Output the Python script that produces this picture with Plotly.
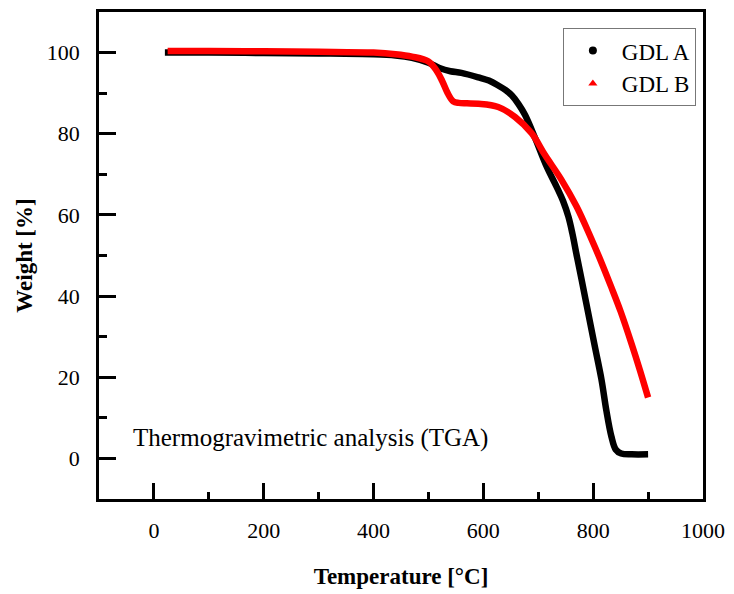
import plotly.graph_objects as go

# GDL A (black)
temp_a = [20, 100, 200, 300, 400, 440, 470, 500, 520, 540, 560, 591, 610, 627, 640, 652,
          664, 676, 694, 715, 735, 745, 755, 762, 770, 779, 791, 803, 815, 824, 833, 841,
          851, 870, 900]
weight_a = [100.0, 100.0, 99.9, 99.8, 99.6, 99.3, 98.7, 97.5, 96.2, 95.4, 95.0, 93.9,
            93.1, 91.9, 90.8, 89.4, 87.3, 84.6, 79.0, 72.0, 66.5, 63.5, 59.5, 55.5,
            50.0, 44.0, 35.8, 27.6, 19.5, 11.8, 5.5, 2.2, 1.2, 1.0, 1.0]

# GDL B (red)
temp_b = [25, 100, 200, 300, 400, 440, 470, 500, 515, 525, 535, 545, 555, 570, 591,
          627, 658, 688, 712, 742, 770, 797, 815, 833, 850, 870, 885, 900]
weight_b = [100.4, 100.4, 100.3, 100.2, 100.0, 99.6, 99.0, 97.8, 95.5, 93.0, 90.0,
            88.0, 87.6, 87.5, 87.4, 86.6, 84.1, 80.1, 74.8, 68.7, 62.0, 54.0, 48.3,
            42.2, 36.2, 28.2, 21.8, 15.0]

x_ticks = [0, 200, 400, 600, 800, 1000]
y_ticks = [0, 20, 40, 60, 80, 100]

FONT = "Liberation Serif"

fig = go.Figure()
fig.add_trace(go.Scatter(x=temp_a, y=weight_a, mode="lines",
                         line=dict(color="black", width=6.5, shape="spline", smoothing=1.0),
                         showlegend=False))
fig.add_trace(go.Scatter(x=temp_b, y=weight_b, mode="lines",
                         line=dict(color="#ff0000", width=6.5, shape="spline", smoothing=1.0),
                         showlegend=False))
fig.add_trace(go.Scatter(x=[None], y=[None], mode="markers", name="GDL A",
                         marker=dict(color="black", symbol="circle", size=8)))
fig.add_trace(go.Scatter(x=[None], y=[None], mode="markers", name="GDL B",
                         marker=dict(color="#ff0000", symbol="triangle-up", size=8)))

fig.add_annotation(x=-42, y=5, xref="x", yref="y", text="Thermogravimetric analysis (TGA)",
                   showarrow=False, xanchor="left", yanchor="middle",
                   font=dict(family=FONT, size=25, color="black"))

axis_common = dict(showgrid=False, zeroline=False, showline=True, linecolor="black", linewidth=2.5,
                   mirror=True, ticks="inside", tickcolor="black", tickwidth=2.5,
                   tickfont=dict(family=FONT, size=22, color="black"))

fig.update_xaxes(range=[-100, 1000], tickvals=x_ticks, ticklen=16,
                 minor=dict(dtick=100, ticks="inside", ticklen=7, tickwidth=2.5, tickcolor="black"),
                 title=dict(text="<b>Temperature [°C]</b>", font=dict(family=FONT, size=23, color="black"), standoff=26),
                 ticklabelstandoff=10,
                 **axis_common)
fig.update_yaxes(range=[-10, 110], tickvals=y_ticks, ticklen=17,
                 minor=dict(dtick=10, ticks="inside", ticklen=8, tickwidth=2.5, tickcolor="black"),
                 title=dict(text="<b>Weight [%]</b>", font=dict(family=FONT, size=23, color="black"), standoff=8),
                 ticklabelstandoff=12,
                 **axis_common)

fig.update_layout(
    width=734, height=594,
    margin=dict(l=99, r=28, t=9, b=95),
    paper_bgcolor="white", plot_bgcolor="white",
    font=dict(family=FONT, color="black"),
    legend=dict(x=0.768, y=0.967, xanchor="left", yanchor="top",
                bordercolor="#777777", borderwidth=1, bgcolor="white",
                font=dict(family=FONT, size=23, color="black"),
                itemwidth=48, tracegroupgap=0),
)

fig.write_html("out.html", config={"displayModeBar": False},
               post_script="document.body.style.margin='0px';")
